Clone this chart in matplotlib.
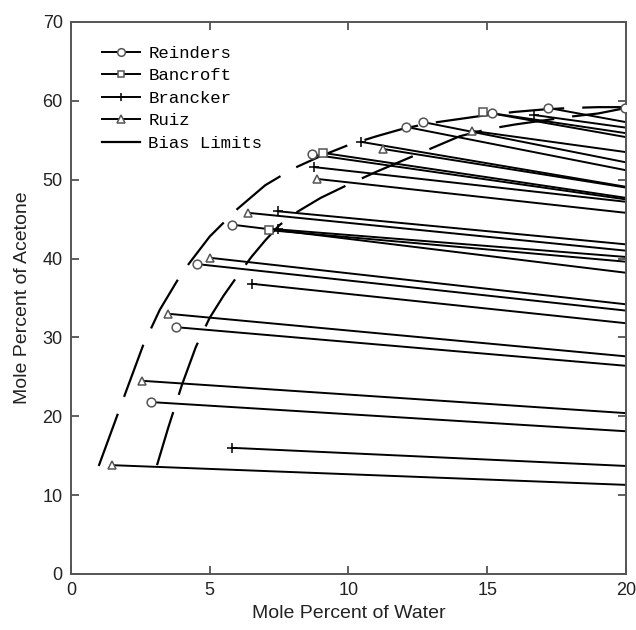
import matplotlib
matplotlib.use("Agg")
import matplotlib.pyplot as plt
from matplotlib.lines import Line2D

plt.rcParams['lines.scale_dashes'] = False
plt.rcParams['font.family'] = ['Liberation Sans', 'DejaVu Sans']

# tie lines: left end (water, acetone) and acetone value where the line meets water = 20
reinders_x = [2.88, 3.78, 4.54, 5.8, 8.68, 12.07, 12.7, 15.17, 17.2, 19.96]
reinders_y = [21.8, 31.3, 39.3, 44.3, 53.2, 56.7, 57.3, 58.4, 59.1, 59.1]
reinders_y20 = [18.1, 26.4, 33.4, 38.2, 47.5, 51.2, 52.2, 55.4, 57.3, 59.0]

bancroft_x = [7.14, 9.08, 14.85]
bancroft_y = [43.6, 53.4, 58.6]
bancroft_y20 = [39.6, 47.7, 55.9]

brancker_x = [5.8, 6.52, 7.45, 7.45, 8.76, 10.45, 16.7]
brancker_y = [16.0, 36.8, 43.7, 46.0, 51.6, 54.8, 58.2]
brancker_y20 = [13.7, 31.8, 40.2, 41.8, 47.2, 49.1, 56.6]

ruiz_x = [1.48, 2.56, 3.5, 5.0, 6.38, 8.86, 11.24, 14.45]
ruiz_y = [13.8, 24.5, 33.0, 40.1, 45.8, 50.1, 53.9, 56.2]
ruiz_y20 = [11.3, 20.4, 27.6, 34.2, 41.0, 45.8, 49.0, 53.5]

# bias limit curves
outer_x = [1.0, 1.5, 2.0, 2.6, 3.2, 4.0, 5.0, 6.0, 7.0, 8.0, 9.0, 10.0, 11.0,
           12.0, 13.0, 14.0, 15.0, 16.0, 17.0, 18.0, 19.0, 20.0]
outer_y = [13.7, 18.5, 23.3, 29.0, 33.5, 38.2, 42.8, 46.3, 49.3, 51.4, 53.0, 54.4,
           55.5, 56.5, 57.2, 57.7, 58.2, 58.6, 58.9, 59.1, 59.2, 59.2]
inner_x = [3.1, 3.5, 4.0, 4.5, 5.0, 5.5, 6.0, 6.5, 7.0, 7.5, 8.0, 9.0, 10.0,
           11.0, 12.0, 13.0, 14.0, 15.0, 16.0, 17.0, 18.0, 19.0, 20.0]
inner_y = [13.8, 18.5, 24.0, 28.8, 32.5, 35.3, 37.8, 40.2, 42.3, 44.2, 45.6, 47.7,
           49.4, 51.0, 52.5, 54.0, 55.5, 56.4, 57.0, 57.5, 58.0, 58.4, 59.1]

fig = plt.figure(figsize=(6.36, 6.30), dpi=100)
ax = fig.add_axes([0.1116, 0.0889, 0.8727, 0.8762])

mcol = '#555555'
sets = [
    (reinders_x, reinders_y, reinders_y20, 'o', 6.3, 'Reinders'),
    (bancroft_x, bancroft_y, bancroft_y20, 's', 5.6, 'Bancroft'),
    (brancker_x, brancker_y, brancker_y20, '+', 6.5, 'Brancker'),
    (ruiz_x, ruiz_y, ruiz_y20, '^', 6.0, 'Ruiz'),
]
handles = []
for xs, ys, y20, m, ms, lab in sets:
    for i in range(len(xs)):
        ax.plot([xs[i], 20], [ys[i], y20[i]], color='black', lw=1.4, zorder=2)
    ec = 'black' if m == '+' else mcol
    ax.plot(xs, ys, ls='none', marker=m, ms=ms, mfc='white', mec=ec, mew=1.1, zorder=3)
    handles.append(Line2D([], [], color='black', lw=1.4, marker=m, ms=ms - 0.8, mfc='white',
                          mec=ec, mew=1.1))

ax.plot(outer_x, outer_y, color='black', lw=1.6, linestyle=(0, (40, 13)), zorder=2)
ax.plot(inner_x, inner_y, color='black', lw=1.6, linestyle=(0, (40, 13)), zorder=2)
handles.append(Line2D([], [], color='black', lw=1.6))

ax.legend(handles, ['Reinders', 'Bancroft', 'Brancker', 'Ruiz', 'Bias Limits'],
          loc='upper left', bbox_to_anchor=(0.027, 0.985), frameon=False,
          prop={'family': 'Liberation Mono', 'size': 12.5}, handlelength=2.2,
          handletextpad=0.5, labelspacing=0.42, numpoints=1)

ax.set_xlim(0, 20)
ax.set_ylim(0, 70)
ax.set_xticks([0, 5, 10, 15, 20])
ax.set_yticks(range(0, 71, 10))
ax.tick_params(direction='in', length=6, width=1.2, color='#444444', top=True, right=True,
               labelsize=13, labelcolor='#222222', pad=6)
for s in ax.spines.values():
    s.set_color('#555555')
    s.set_linewidth(1.4)
ax.set_xlabel('Mole Percent of Water', fontsize=14, color='#222222', labelpad=4)
ax.set_ylabel('Mole Percent of Acetone', fontsize=14, color='#222222', labelpad=8)

fig.savefig('out.png', dpi=100)
